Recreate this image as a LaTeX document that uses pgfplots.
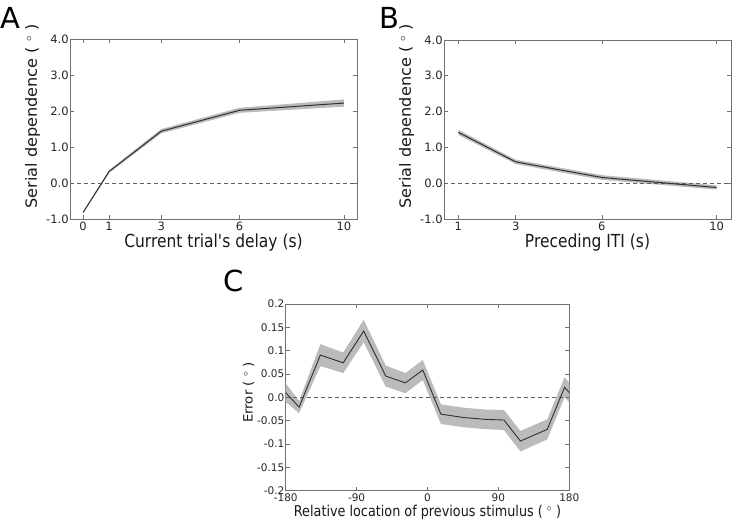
\documentclass[border=0pt]{standalone}
\usepackage{fontspec}
\setmainfont{DejaVu Sans}
\usepackage{graphicx}
\usepackage{pgfplots}
\pgfplotsset{compat=1.18}
\usepgfplotslibrary{fillbetween}
\newcommand{\vs}[1]{\scalebox{1}[1.16]{#1}}
\newcommand{\hs}[1]{\scalebox{1.04}[1]{#1}}
\definecolor{framec}{HTML}{707070}
\definecolor{bandc}{HTML}{BBBBBB}
\definecolor{linec}{HTML}{303030}
\definecolor{zeroc}{HTML}{606060}
\pgfplotsset{
  mystyle/.style={
    scale only axis, anchor=south west,
    axis line style={framec, line width=0.8bp},
    tick style={framec, line width=0.6bp},
    major tick length=4bp,
    tick align=inside,
    xtick pos=both, ytick pos=both,
    ticklabel style={font=\fontsize{11.5bp}{13bp}\selectfont, text=black!85},
    yticklabel style={inner sep=1.2bp},
    xticklabel style={inner sep=2.5bp},
    label style={font=\fontsize{15.5bp}{18bp}\selectfont, text=black!90},
    /pgf/number format/assume math mode=true,
    clip=true,
  },
  band/.style={draw=none, forget plot},
}
\begin{document}
\begin{tikzpicture}
% panel letters
\node[font=\fontsize{29bp}{29bp}\selectfont, anchor=base west, inner sep=0pt] at (0.5bp,492.5bp) {A};
\node[font=\fontsize{29bp}{29bp}\selectfont, anchor=base west, inner sep=0pt] at (379bp,492.5bp) {B};
\node[font=\fontsize{29bp}{29bp}\selectfont, anchor=base west, inner sep=0pt] at (223bp,229.5bp) {C};

% Panel A
\begin{axis}[mystyle, at={(70bp,302bp)}, width=287bp, height=180bp,
  xmin=-0.5, xmax=10.5, ymin=-1, ymax=4,
  xtick={0,1,3,6,10}, xticklabels={0,1,3,6,10},
  ytick={-1,0,1,2,3,4}, yticklabels={-1.0,0.0,1.0,2.0,3.0,4.0},
  xlabel={\vs{Current trial\textquotesingle s delay (s)}},
  ylabel={\hs{Serial dependence ( $^{\circ}$ )}},
  xlabel style={at={(axis description cs:0.5,-0.161)}, anchor=base},
  ylabel style={at={(axis description cs:-0.115,0.57)}, anchor=base}]
\addplot[zeroc, dashed, line width=0.8bp, dash pattern=on 4bp off 3bp, forget plot] coordinates {(-0.5,0) (10.5,0)};
\addplot[band, name path=au] coordinates {(0,-0.80) (1,0.36) (3,1.50) (6,2.09) (10,2.32)};
\addplot[band, name path=al] coordinates {(0,-0.85) (1,0.28) (3,1.38) (6,1.95) (10,2.12)};
\addplot[bandc, forget plot] fill between[of=au and al];
\addplot[linec, line width=1bp] coordinates {(0,-0.82) (1,0.32) (3,1.44) (6,2.02) (10,2.22)};
\end{axis}

% Panel B
\begin{axis}[mystyle, at={(444bp,302bp)}, width=287bp, height=179bp,
  xmin=0.5, xmax=10.5, ymin=-1, ymax=4,
  xtick={1,3,6,10}, xticklabels={1,3,6,10},
  ytick={-1,0,1,2,3,4}, yticklabels={-1.0,0.0,1.0,2.0,3.0,4.0},
  xlabel={\vs{Preceding ITI (s)}},
  ylabel={\hs{Serial dependence ( $^{\circ}$ )}},
  xlabel style={at={(axis description cs:0.5,-0.162)}, anchor=base},
  ylabel style={at={(axis description cs:-0.115,0.575)}, anchor=base}]
\addplot[zeroc, dashed, line width=0.8bp, dash pattern=on 4bp off 3bp, forget plot] coordinates {(0.5,0) (10.5,0)};
\addplot[band, name path=bu] coordinates {(1,1.49) (3,0.655) (6,0.225) (10,-0.06)};
\addplot[band, name path=bl] coordinates {(1,1.35) (3,0.535) (6,0.095) (10,-0.18)};
\addplot[bandc, forget plot] fill between[of=bu and bl];
\addplot[linec, line width=1bp] coordinates {(1,1.42) (3,0.595) (6,0.16) (10,-0.12)};
\end{axis}

% Panel C
\begin{axis}[mystyle, at={(285.7bp,30.3bp)}, width=283.6bp, height=186.7bp,
  xmin=-180, xmax=180, ymin=-0.2, ymax=0.2,
  xtick={-180,-90,0,90,180}, xticklabels={-180,-90,0,90,180},
  ytick={-0.2,-0.15,-0.1,-0.05,0,0.05,0.1,0.15,0.2},
  yticklabels={-0.2,-0.15,-0.1,-0.05,0.0,0.05,0.1,0.15,0.2},
  ticklabel style={font=\fontsize{10.5bp}{12bp}\selectfont},
  label style={font=\fontsize{12.8bp}{15bp}\selectfont},
  xlabel={\vs{Relative location of previous stimulus ( $^{\circ}$ )}},
  ylabel={\hs{Error ( $^{\circ}$ )}},
  xlabel style={at={(axis description cs:0.5,-0.136)}, anchor=base},
  ylabel style={at={(axis description cs:-0.117,0.526)}, anchor=base}]
\addplot[zeroc, dashed, line width=0.8bp, dash pattern=on 4bp off 3bp, forget plot] coordinates {(-180,0) (180,0)};
\addplot[band, name path=cu] coordinates {
  (-180,0.030) (-163,-0.008) (-136,0.114) (-107,0.096) (-81,0.166) (-53,0.068) (-28,0.052) (-6,0.080)
  (17,-0.015) (45,-0.022) (72,-0.026) (97,-0.027) (118,-0.072) (152,-0.047) (174,0.043) (180,0.031)};
\addplot[band, name path=cl] coordinates {
  (-180,-0.010) (-163,-0.034) (-136,0.067) (-107,0.052) (-81,0.118) (-53,0.023) (-28,0.009) (-6,0.037)
  (17,-0.057) (45,-0.064) (72,-0.068) (97,-0.070) (118,-0.116) (152,-0.090) (174,0.000) (180,-0.011)};
\addplot[bandc, forget plot] fill between[of=cu and cl];
\addplot[linec, line width=0.9bp] coordinates {
  (-180,0.010) (-163,-0.021) (-136,0.0906) (-107,0.074) (-81,0.142) (-53,0.0456) (-28,0.031) (-6,0.0585)
  (17,-0.036) (45,-0.043) (72,-0.047) (97,-0.0486) (118,-0.0936) (152,-0.0686) (174,0.0214) (180,0.010)};
\end{axis}
\pgfresetboundingbox
\useasboundingbox (0bp,0bp) rectangle (734bp,521bp);
\end{tikzpicture}
\end{document}
